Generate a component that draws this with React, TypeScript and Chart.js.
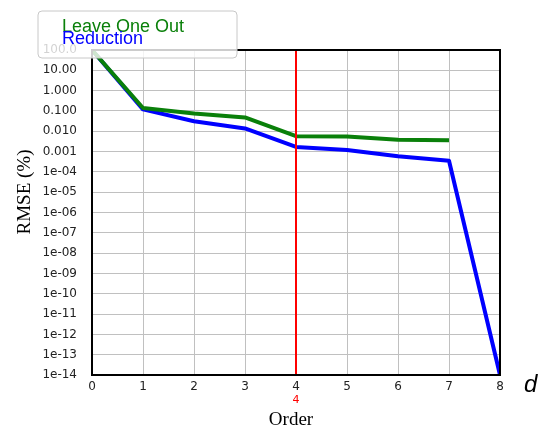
import React, { useEffect, useRef } from "react";
import { Chart, registerables } from "chart.js";

Chart.register(...registerables);

const orders = [0, 1, 2, 3, 4, 5, 6, 7, 8];
const leaveOneOut = [100, 0.14, 0.074, 0.048, 0.0057, 0.0055, 0.0038, 0.0036];
const reduction = [100, 0.12, 0.031, 0.0138, 0.0017, 0.0012, 0.00059, 0.00035, 1e-14];
const yTickValues = [1e2, 1e1, 1, 1e-1, 1e-2, 1e-3, 1e-4, 1e-5, 1e-6, 1e-7, 1e-8, 1e-9, 1e-10, 1e-11, 1e-12, 1e-13, 1e-14];
const yTickLabels = ["100.0", "10.00", "1.000", "0.100", "0.010", "0.001", "1e-04", "1e-05", "1e-06", "1e-07", "1e-08", "1e-09", "1e-10", "1e-11", "1e-12", "1e-13", "1e-14"];
const xTickLabels = ["0", "1", "2", "3", "4", "5", "6", "7", "8"];
const markerOrder = 4;
const legendLabels = ["Leave One Out", "Reduction"];
const seriesColors = ["#0a800a", "#0000ff"];

const overlayPlugin = {
  id: "overlay",
  afterDatasetsDraw(chart: any) {
    const ctx = chart.ctx;
    const { left, right, top, bottom } = chart.chartArea;
    const xs = chart.scales.x;
    ctx.save();
    // red marker line
    const mx = xs.getPixelForValue(markerOrder);
    ctx.strokeStyle = "#ff0000";
    ctx.lineWidth = 2;
    ctx.beginPath();
    ctx.moveTo(mx, top);
    ctx.lineTo(mx, bottom);
    ctx.stroke();
    // frame
    ctx.strokeStyle = "#000";
    ctx.lineWidth = 2;
    ctx.strokeRect(left, top, right - left, bottom - top);
    // red label under axis
    ctx.fillStyle = "#ff0000";
    ctx.font = "11px 'DejaVu Sans'";
    ctx.textAlign = "center";
    ctx.textBaseline = "alphabetic";
    ctx.fillText(String(markerOrder), mx, 403);
    // axis titles
    ctx.fillStyle = "#000";
    ctx.font = "19px 'Liberation Serif'";
    ctx.fillText("Order", 291, 425);
    ctx.save();
    ctx.translate(30, 192);
    ctx.rotate(-Math.PI / 2);
    ctx.fillText("RMSE (%)", 0, 0);
    ctx.restore();
    ctx.font = "italic 24px 'Liberation Sans'";
    ctx.textAlign = "left";
    ctx.fillText("d", 524, 392);
    // legend box
    const bx = 38, by = 11, bw = 199, bh = 47, r = 4;
    ctx.beginPath();
    ctx.moveTo(bx + r, by);
    ctx.lineTo(bx + bw - r, by);
    ctx.quadraticCurveTo(bx + bw, by, bx + bw, by + r);
    ctx.lineTo(bx + bw, by + bh - r);
    ctx.quadraticCurveTo(bx + bw, by + bh, bx + bw - r, by + bh);
    ctx.lineTo(bx + r, by + bh);
    ctx.quadraticCurveTo(bx, by + bh, bx, by + bh - r);
    ctx.lineTo(bx, by + r);
    ctx.quadraticCurveTo(bx, by, bx + r, by);
    ctx.closePath();
    ctx.fillStyle = "rgba(255,255,255,0.8)";
    ctx.fill();
    ctx.strokeStyle = "#c8c8c8";
    ctx.lineWidth = 1;
    ctx.stroke();
    ctx.font = "18px 'Liberation Sans'";
    ctx.textAlign = "left";
    ctx.fillStyle = seriesColors[0];
    ctx.fillText(legendLabels[0], 62, 32);
    ctx.fillStyle = seriesColors[1];
    ctx.fillText(legendLabels[1], 62, 44);
    ctx.restore();
  },
};

export default function App() {
  const ref = useRef<HTMLCanvasElement>(null);
  useEffect(() => {
    if (!ref.current) return;
    const chart = new Chart(ref.current, {
      type: "line",
      data: {
        datasets: [
          {
            label: legendLabels[0],
            data: leaveOneOut.map((v, i) => ({ x: orders[i], y: v })),
            borderColor: seriesColors[0],
            borderWidth: 4,
            pointRadius: 0,
            tension: 0,
            borderJoinStyle: "round",
          },
          {
            label: legendLabels[1],
            data: reduction.map((v, i) => ({ x: orders[i], y: v })),
            borderColor: seriesColors[1],
            borderWidth: 4,
            pointRadius: 0,
            tension: 0,
            borderJoinStyle: "round",
          },
        ],
      },
      options: {
        animation: false,
        responsive: false,
        layout: { padding: { left: 0, right: 50, top: 50, bottom: 0 } },
        plugins: { legend: { display: false }, tooltip: { enabled: false } },
        scales: {
          x: {
            type: "linear",
            min: 0,
            max: 8,
            afterBuildTicks: (s: any) => {
              s.ticks = orders.map((v) => ({ value: v }));
            },
            afterFit: (s: any) => {
              s.height = 61;
            },
            ticks: {
              callback: (v: any) => xTickLabels[orders.indexOf(Number(v))] ?? "",
              color: "#222",
              font: { family: "'DejaVu Sans'", size: 12 },
              padding: 5,
              maxRotation: 0,
              autoSkip: false,
            },
            grid: { color: "#c0c0c0", lineWidth: 1, drawTicks: false },
            border: { color: "#000", width: 2 },
          },
          y: {
            type: "logarithmic",
            min: 1e-14,
            max: 1e2,
            afterBuildTicks: (s: any) => {
              s.ticks = yTickValues.map((v) => ({ value: v }));
            },
            afterFit: (s: any) => {
              s.width = 92;
            },
            ticks: {
              callback: (v: any) => {
                const i = yTickValues.findIndex((t) => Math.abs(Math.log10(t) - Math.log10(Number(v))) < 1e-6);
                return i >= 0 ? yTickLabels[i] : "";
              },
              color: "#222",
              font: { family: "'DejaVu Sans'", size: 12 },
              padding: 15,
              autoSkip: false,
            },
            grid: { color: "#c0c0c0", lineWidth: 1, drawTicks: false },
            border: { color: "#000", width: 2 },
          },
        },
      },
      plugins: [overlayPlugin],
    } as any);
    return () => chart.destroy();
  }, []);
  return (
    <div style={{ position: "absolute", left: 0, top: 0, width: 550, height: 436, background: "#fff" }}>
      <canvas ref={ref} width={550} height={436} />
    </div>
  );
}
